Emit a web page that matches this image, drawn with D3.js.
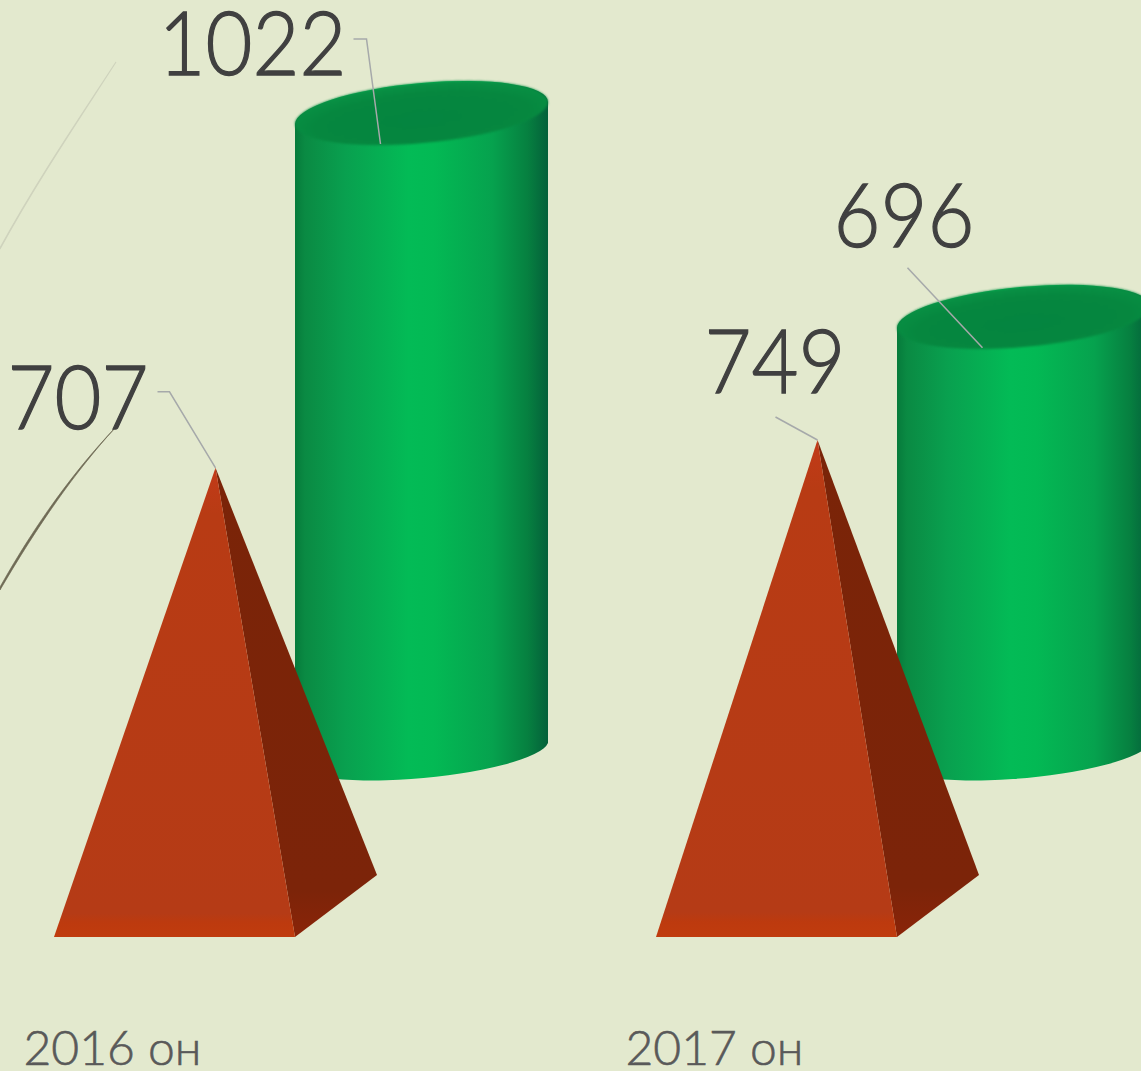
<!DOCTYPE html>
<html>
<head>
    <title>2016-2017</title>
    <meta charset="utf-8" />
    <script src="https://cdn.jsdelivr.net/npm/d3@7/dist/d3.min.js"></script>
    <style>
        html, body { margin: 0; padding: 0; background: #e3e9ce; overflow: hidden; }
        text { font-family: Lato, sans-serif; }
        .value { font-size: 89px; font-weight: 300; fill: #404040; stroke: #404040; stroke-width: 1.3; }
        .category { font-size: 48px; font-weight: 300; fill: #595959; stroke: #595959; stroke-width: 0.6; }
        .leader { fill: none; stroke: #a6a9aa; stroke-width: 1.5; }
    </style>
</head>
<body>
    <div id="chart"></div>
    <script>
        var categories = ["2016 он", "2017 он"];
        var pyramidValues = [707, 749];
        var cylinderValues = [1022, 696];

        var width = 1141;
        var height = 1071;

        // both series have their own vertical scale in the original 3d chart
        var x = d3.scalePoint().domain(categories).range([215.5, 817.5]);
        var yPyramid = d3.scaleLinear().domain([0, 749]).range([937, 440]);
        var yCylinder = d3.scaleLinear().domain([0, 1022]).range([752, 113]);

        var halfBase = 161.5;      // pyramid base half width, including depth
        var frontRight = 79.5;
        var backY = 875;
        var cylOffset = 206;
        var rx = 127, ry = 30, tilt = -5.26;
        var tanX = 126.5, tanY = 11; // where the tilted ellipse has vertical tangents
        var baseRy = 26, baseTanY = 9; // the bottom ellipse is flatter

        var svg = d3.select("#chart")
            .append("svg")
            .attr("width", width)
            .attr("height", height)
            .style("display", "block");

        var defs = svg.append("defs");

        function gradient(id, horizontal, stops) {
            var g = defs.append("linearGradient").attr("id", id)
                .attr("x1", 0).attr("y1", 0)
                .attr("x2", horizontal ? 1 : 0).attr("y2", horizontal ? 0 : 1);
            stops.forEach(function (s) {
                g.append("stop").attr("offset", s[0]).attr("stop-color", s[1]);
            });
        }

        gradient("cylSide", true, [
            [0, "#067a3b"], [0.04, "#0a8a43"], [0.2, "#09a04f"], [0.45, "#03bb56"],
            [0.55, "#03b954"], [0.78, "#06a24e"], [0.92, "#068040"], [1, "#04603a"]
        ]);
        gradient("pyrFront", false, [
            [0, "#c23a18"], [0.1, "#b83b14"], [0.95, "#b53b16"], [0.97, "#bd3a0e"], [1, "#c03c0e"]
        ]);
        gradient("pyrSide", false, [
            [0, "#7a2408"], [0.9, "#7c2409"], [1, "#8a2408"]
        ]);

        var topGrad = defs.append("radialGradient").attr("id", "cylTop")
            .attr("cx", 0.5).attr("cy", 0.6).attr("r", 0.6);
        topGrad.append("stop").attr("offset", 0).attr("stop-color", "#048540");
        topGrad.append("stop").attr("offset", 0.7).attr("stop-color", "#06873f");
        topGrad.append("stop").attr("offset", 1).attr("stop-color", "#099245");

        defs.append("filter").attr("id", "soft")
            .attr("color-interpolation-filters", "sRGB")
            .append("feGaussianBlur").attr("stdDeviation", 1.2);

        // decorative swooshes on the left edge of the slide
        var swooshes = [
            { d: "M116,62 C78,120 36,182 0,248 L0,249 C36,183 78,121 116,62 Z", stroke: "#cfd3bd", w: 1.1 },
            { d: "M115,428 C75,472 38,525 0,590 L0,587 C36,523 75,470 115,428 Z", stroke: "#6f6a55", w: 0.7 }
        ];
        svg.selectAll(".swoosh").data(swooshes).enter().append("path")
            .attr("class", "swoosh")
            .attr("d", function (d) { return d.d; })
            .attr("fill", function (d) { return d.stroke; })
            .attr("stroke", function (d) { return d.stroke; })
            .attr("stroke-width", function (d) { return d.w; });

        // cylinders
        var cylData = categories.map(function (c, i) { return { cat: c, value: cylinderValues[i] }; });
        var cyl = svg.selectAll(".cyl").data(cylData).enter().append("g").attr("class", "cyl");

        // the body runs under the whole top ellipse so its blurred edge has green behind it
        cyl.append("path")
            .attr("fill", "url(#cylSide)")
            .attr("d", function (d) {
                var cx = x(d.cat) + cylOffset, top = yCylinder(d.value), base = yCylinder(0);
                return "M" + (cx - tanX) + "," + (top + tanY) +
                    "L" + (cx - tanX) + "," + (base + baseTanY) +
                    "A" + rx + "," + baseRy + " " + tilt + " 0 0 " + (cx + tanX) + "," + (base - baseTanY) +
                    "L" + (cx + tanX) + "," + (top - tanY) +
                    "A" + rx + "," + ry + " " + tilt + " 0 0 " + (cx - tanX) + "," + (top + tanY) + "Z";
            });

        cyl.append("ellipse")
            .attr("fill", "url(#cylTop)")
            .attr("filter", "url(#soft)")
            .attr("rx", rx)
            .attr("ry", ry)
            .attr("transform", function (d) {
                return "translate(" + (x(d.cat) + cylOffset) + "," + yCylinder(d.value) + ") rotate(" + tilt + ")";
            });

        // pyramids
        var pyrData = categories.map(function (c, i) { return { cat: c, value: pyramidValues[i] }; });
        var pyr = svg.selectAll(".pyr").data(pyrData).enter().append("g").attr("class", "pyr");

        pyr.append("path")
            .attr("fill", "url(#pyrSide)")
            .attr("d", function (d) {
                var c = x(d.cat);
                return "M" + c + "," + yPyramid(d.value) +
                    "L" + (c + frontRight) + "," + yPyramid(0) +
                    "L" + (c + halfBase) + "," + backY + "Z";
            });

        pyr.append("path")
            .attr("fill", "url(#pyrFront)")
            .attr("d", function (d) {
                var c = x(d.cat);
                return "M" + c + "," + yPyramid(d.value) +
                    "L" + (c - halfBase) + "," + yPyramid(0) +
                    "L" + (c + frontRight) + "," + yPyramid(0) + "Z";
            });

        // value labels with leader lines, offsets are from the point each leader touches
        function anchorPyramid(d) { return [x(d.cat), yPyramid(d.value)]; }
        function anchorCylinder(d) { return [x(d.cat) + cylOffset - 41, yCylinder(d.value) + 31]; }

        var pyrLabels = [
            { leader: [[0, 0], [-46, -76], [-58, -76]], text: [-67, -39] },
            { leader: [[0, 0], [-42, -23]], text: [28, -47] }
        ];
        var cylLabels = [
            { leader: [[0, 0], [-14, -105], [-27, -105]], text: [-34, -69] },
            { leader: [[0, 0], [-75, -80]], text: [-8, -101] }
        ];

        function drawLabels(data, layout, anchor) {
            var g = svg.append("g").selectAll("g").data(data).enter().append("g")
                .attr("transform", function (d) {
                    var a = anchor(d);
                    return "translate(" + a[0] + "," + a[1] + ")";
                });
            g.append("path")
                .attr("class", "leader")
                .attr("d", function (d, i) { return d3.line()(layout[i].leader); });
            // Lato digits are wider than the original font, so squeeze them a bit
            g.append("text")
                .attr("class", "value")
                .attr("text-anchor", "end")
                .attr("transform", function (d, i) {
                    return "translate(" + layout[i].text[0] + "," + layout[i].text[1] + ") scale(0.91,1)";
                })
                .text(function (d) { return d.value; });
        }
        drawLabels(cylData, cylLabels, anchorCylinder);
        drawLabels(pyrData, pyrLabels, anchorPyramid);

        // category labels
        svg.selectAll(".category").data(categories).enter().append("text")
            .attr("class", "category")
            .attr("x", function (d) { return x(d) - 192; })
            .attr("y", 1065)
            .text(function (d) { return d; });
    </script>
</body>
</html>
